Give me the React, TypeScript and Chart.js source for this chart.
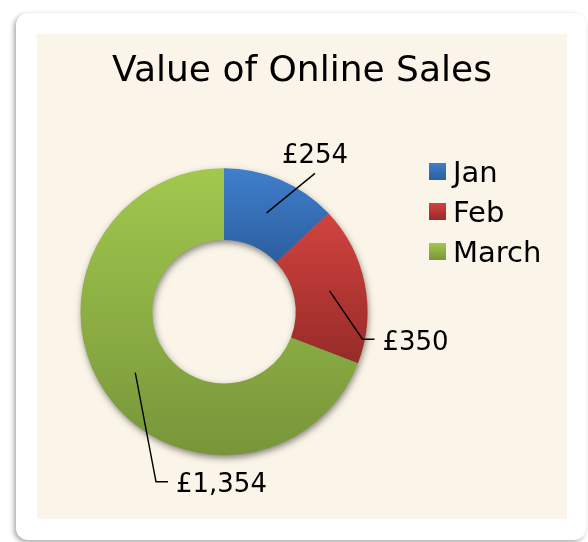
import React, { useEffect, useRef } from "react";
import { Chart, registerables } from "chart.js";

Chart.register(...registerables);

// ---- data ----
const chartTitle = "Value of Online Sales";
const categories = ["Jan", "Feb", "March"];
const salesValues = [254, 350, 1354];
const valueLabels = ["£254", "£350", "£1,354"];

// ---- styles ----
const gradientTop = ["#3F7FCC", "#D2433F", "#A2C84E"];
const gradientBottom = ["#2C5E9E", "#962B28", "#77963A"];
const FONT = '"DejaVu Sans", "Liberation Sans", sans-serif';
const BEIGE = "#FBF5E9";

// leader-line elbows, in units of the outer radius relative to the doughnut centre
const leaderLayout = [
  { ex: 0.634, ey: -0.964, tail: 0, place: "above" },
  { ex: 0.965, ey: 0.192, tail: 12, place: "right" },
  { ex: -0.474, ey: 1.185, tail: 12, place: "right" },
];

function ringGeometry(chart: any) {
  const a = chart.chartArea;
  const cx = (a.left + a.right) / 2;
  const cy = (a.top + a.bottom) / 2;
  const outer = Math.min(a.right - a.left, a.bottom - a.top) / 2;
  return { cx, cy, outer, inner: outer * 0.5 };
}

function sliceAngles(values: number[], index: number) {
  const total = values.reduce((s, v) => s + v, 0);
  let start = -Math.PI / 2;
  for (let i = 0; i < index; i++) start += (values[i] / total) * Math.PI * 2;
  const end = start + (values[index] / total) * Math.PI * 2;
  return { start, end };
}

function sliceGradient(chart: any, index: number) {
  if (!chart.chartArea) return gradientTop[index];
  const values = chart.data.datasets[0].data as number[];
  const { cx, cy, outer, inner } = ringGeometry(chart);
  const { start, end } = sliceAngles(values, index);
  let minY = Infinity;
  let maxY = -Infinity;
  for (let k = 0; k <= 96; k++) {
    const t = start + ((end - start) * k) / 96;
    for (const r of [inner, outer]) {
      const y = cy + r * Math.sin(t);
      minY = Math.min(minY, y);
      maxY = Math.max(maxY, y);
    }
  }
  const g = chart.ctx.createLinearGradient(0, minY, 0, maxY);
  g.addColorStop(0, gradientTop[index]);
  g.addColorStop(1, gradientBottom[index]);
  return g;
}

const decorPlugin = {
  id: "decor",
  beforeDatasetsDraw(chart: any) {
    const ctx = chart.ctx;
    const { cx, cy, outer, inner } = ringGeometry(chart);
    ctx.save();
    ctx.shadowColor = "rgba(0,0,0,0.5)";
    ctx.shadowBlur = 7;
    ctx.shadowOffsetX = 1;
    ctx.shadowOffsetY = 3;
    ctx.beginPath();
    ctx.arc(cx, cy, outer - 0.5, 0, Math.PI * 2);
    ctx.arc(cx, cy, inner + 0.5, 0, Math.PI * 2, true);
    ctx.fillStyle = "#808080";
    ctx.fill("evenodd");
    ctx.restore();
  },
  afterDatasetsDraw(chart: any) {
    const ctx = chart.ctx;
    const meta = chart.getDatasetMeta(0);
    const { cx, cy, outer } = ringGeometry(chart);
    ctx.save();
    ctx.strokeStyle = "#000";
    ctx.lineWidth = 1.4;
    ctx.fillStyle = "#000";
    ctx.font = `normal 26px ${FONT}`;
    meta.data.forEach((arc: any, i: number) => {
      const p = arc.getProps(["startAngle", "endAngle", "innerRadius", "outerRadius"], true);
      const mid = (p.startAngle + p.endAngle) / 2;
      const rm = (p.innerRadius + p.outerRadius) / 2;
      const sx = cx + rm * Math.cos(mid);
      const sy = cy + rm * Math.sin(mid);
      const lay = leaderLayout[i];
      const ex = cx + lay.ex * outer;
      const ey = cy + lay.ey * outer;
      ctx.beginPath();
      ctx.moveTo(sx, sy);
      ctx.lineTo(ex, ey);
      if (lay.tail) ctx.lineTo(ex + lay.tail, ey);
      ctx.stroke();
      if (lay.place === "above") {
        ctx.textAlign = "center";
        ctx.textBaseline = "alphabetic";
        ctx.fillText(valueLabels[i], ex, ey - 10);
      } else {
        ctx.textAlign = "left";
        ctx.textBaseline = "alphabetic";
        ctx.fillText(valueLabels[i], ex + lay.tail + 8, ey + 10.5);
      }
    });
    ctx.restore();
  },
  afterDraw(chart: any) {
    const ctx = chart.ctx;
    ctx.save();
    // title
    ctx.fillStyle = "#000";
    ctx.font = `normal 36px ${FONT}`;
    ctx.textAlign = "center";
    ctx.textBaseline = "alphabetic";
    ctx.fillText(chartTitle, chart.width / 2, 47);
    // legend
    const boxX = 392;
    const firstCenter = 137.5;
    const rowGap = 40;
    const box = 17;
    ctx.font = `normal 29px ${FONT}`;
    ctx.textAlign = "left";
    chart.data.labels.forEach((label: string, i: number) => {
      const cyRow = firstCenter + i * rowGap;
      const g = ctx.createLinearGradient(0, cyRow - box / 2, 0, cyRow + box / 2);
      g.addColorStop(0, gradientTop[i]);
      g.addColorStop(1, gradientBottom[i]);
      ctx.fillStyle = g;
      ctx.fillRect(boxX, cyRow - box / 2, box, box);
      ctx.fillStyle = "#000";
      ctx.fillText(label, boxX + box + 7, cyRow + 10.5);
    });
    ctx.restore();
  },
};

export default function App() {
  const canvasRef = useRef<HTMLCanvasElement | null>(null);

  useEffect(() => {
    if (!canvasRef.current) return;
    const chart = new Chart(canvasRef.current, {
      type: "doughnut",
      data: {
        labels: categories,
        datasets: [
          {
            data: salesValues,
            backgroundColor: (c: any) => sliceGradient(c.chart, c.dataIndex),
            borderWidth: 0,
            hoverOffset: 0,
          },
        ],
      },
      options: {
        responsive: false,
        animation: false,
        cutout: "50%",
        layout: { padding: { left: 43.5, top: 134.2, right: 199.5, bottom: 63.8 } },
        plugins: {
          legend: { display: false },
          title: { display: false },
          tooltip: { enabled: false },
        },
        events: [],
      },
      plugins: [decorPlugin],
    });
    return () => chart.destroy();
  }, []);

  return (
    <div style={{ position: "absolute", left: 0, top: 0, width: 588, height: 542, background: "#fff", overflow: "hidden" }}>
      <div
        style={{
          position: "absolute",
          left: 16,
          top: 13,
          width: 570,
          height: 527,
          background: "#fff",
          borderRadius: 12,
          boxShadow: "-2px 2px 5px rgba(0,0,0,0.35)",
        }}
      />
      <div style={{ position: "absolute", left: 37, top: 34, width: 530, height: 485, background: BEIGE }} />
      <canvas
        ref={canvasRef}
        width={530}
        height={485}
        style={{ position: "absolute", left: 37, top: 34, width: 530, height: 485 }}
      />
    </div>
  );
}
